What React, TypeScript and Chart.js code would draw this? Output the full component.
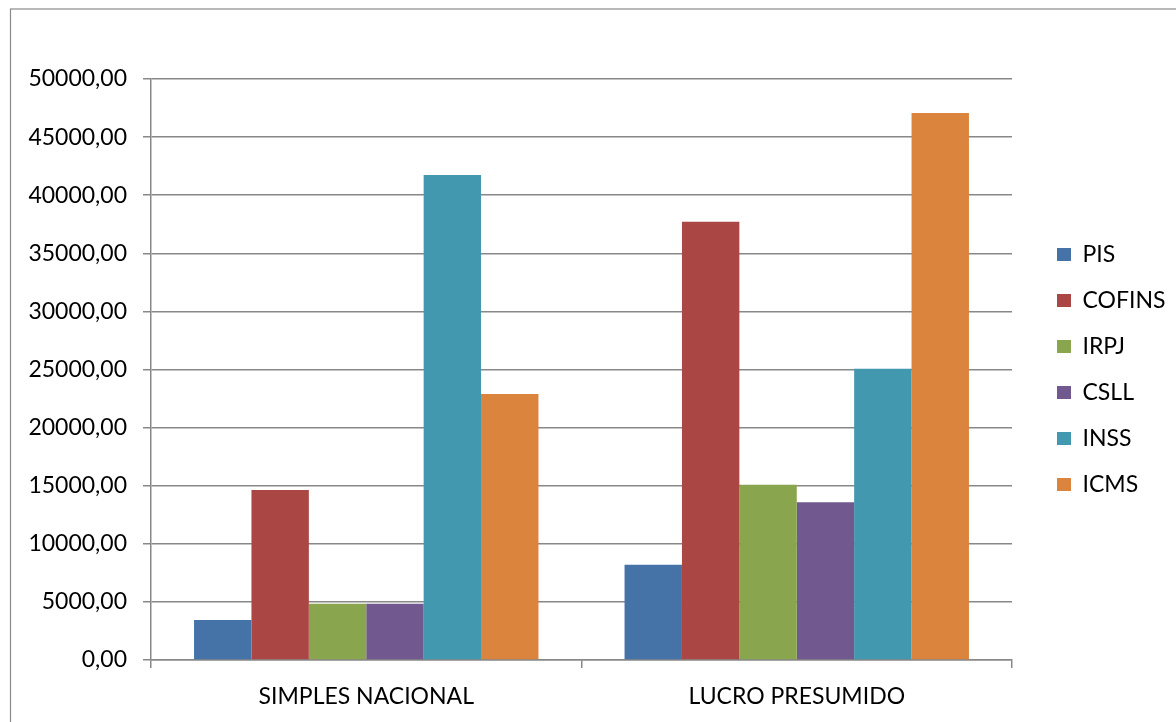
import { useEffect, useRef } from "react";
import { Chart, registerables } from "chart.js";

Chart.register(...registerables);

const categories = ["SIMPLES NACIONAL", "LUCRO PRESUMIDO"];
const seriesNames = ["PIS", "COFINS", "IRPJ", "CSLL", "INSS", "ICMS"];
const pisValues = [3440, 8200];
const cofinsValues = [14630, 37720];
const irpjValues = [4850, 15090];
const csllValues = [4850, 13570];
const inssValues = [41740, 25070];
const icmsValues = [22890, 47070];
const seriesColors = ["#4572A7", "#AA4643", "#89A54E", "#71588F", "#4198AF", "#DB843D"];
const yMin = 0;
const yMax = 50000;
const yStep = 5000;

const FONT_FAMILY = "Lato, Carlito, 'Open Sans', sans-serif";
const FONT_SIZE = 23;

export default function App() {
  const canvasRef = useRef<HTMLCanvasElement | null>(null);

  useEffect(() => {
    const canvas = canvasRef.current;
    if (!canvas) return;

    const mctx = canvas.getContext("2d")!;
    mctx.font = `${FONT_SIZE}px ${FONT_FAMILY}`;
    let maxText = 0;
    seriesNames.forEach((n) => {
      maxText = Math.max(maxText, mctx.measureText(n).width);
    });
    const legendPad = 23;
    const boxW = 14;
    const legendWidth = legendPad * 2 + boxW + FONT_SIZE / 2 + maxText;
    const legendLeft = 1034;
    const padRight = 1176 - legendLeft - legendWidth + 13;

    const allValues = [pisValues, cofinsValues, irpjValues, csllValues, inssValues, icmsValues];

    const borderPlugin = {
      id: "outerBorder",
      beforeDraw(chart: any) {
        const ctx = chart.ctx;
        ctx.save();
        ctx.fillStyle = "#ffffff";
        ctx.fillRect(0, 0, chart.width, chart.height);
        ctx.strokeStyle = "#8a8a8a";
        ctx.lineWidth = 1.2;
        ctx.strokeRect(10.5, 9, 3000, 3000);
        ctx.restore();
      },
    };

    const chart = new Chart(canvas, {
      type: "bar",
      data: {
        labels: categories,
        datasets: seriesNames.map((name, i) => ({
          label: name,
          data: allValues[i],
          backgroundColor: seriesColors[i],
          borderWidth: 0,
          categoryPercentage: 0.8,
          barPercentage: 1.0,
        })),
      },
      options: {
        animation: false,
        responsive: false,
        maintainAspectRatio: false,
        devicePixelRatio: 1,
        layout: {
          padding: { left: 0, top: 79, right: padRight, bottom: 0 },
        },
        plugins: {
          title: { display: false },
          tooltip: { enabled: false },
          legend: {
            display: true,
            position: "right",
            align: "start",
            title: {
              display: true,
              text: "",
              font: { size: 1, lineHeight: 1 },
              padding: { top: 140, bottom: 0 },
            },
            labels: {
              boxWidth: boxW,
              boxHeight: 13,
              padding: legendPad,
              color: "#000000",
              font: { family: FONT_FAMILY, size: FONT_SIZE },
            },
          },
        },
        scales: {
          x: {
            type: "category",
            offset: true,
            grid: {
              display: true,
              offset: true,
              drawOnChartArea: false,
              drawTicks: true,
              tickLength: 8,
              color: "#888888",
              lineWidth: 1.5,
            },
            border: { display: true, color: "#888888", width: 1.5 },
            ticks: {
              color: "#000000",
              padding: 15,
              maxRotation: 0,
              font: { family: FONT_FAMILY, size: FONT_SIZE },
            },
            afterFit(scale: any) {
              scale.height = 62;
            },
          },
          y: {
            type: "linear",
            position: "left",
            min: yMin,
            max: yMax,
            ticks: {
              stepSize: yStep,
              color: "#000000",
              padding: 16,
              font: { family: FONT_FAMILY, size: FONT_SIZE },
              callback: (v: any) => Number(v).toFixed(2).replace(".", ","),
            },
            grid: {
              display: true,
              drawTicks: true,
              tickLength: 8,
              color: "#888888",
              lineWidth: 1.5,
            },
            border: { display: true, color: "#888888", width: 1.5 },
            afterFit(scale: any) {
              scale.width = 151;
            },
          },
          spacer: {
            type: "linear",
            position: "right",
            display: true,
            grid: { display: false, drawTicks: false },
            border: { display: false },
            ticks: { display: false },
            afterFit(scale: any) {
              scale.width = 22;
            },
          },
        },
      },
      plugins: [borderPlugin],
    } as any);

    return () => {
      chart.destroy();
    };
  }, []);

  return (
    <div style={{ position: "fixed", left: 0, top: 0, width: 1176, height: 722, overflow: "hidden", background: "#fff" }}>
      <canvas ref={canvasRef} width={1176} height={722} style={{ display: "block", width: 1176, height: 722 }} />
    </div>
  );
}
